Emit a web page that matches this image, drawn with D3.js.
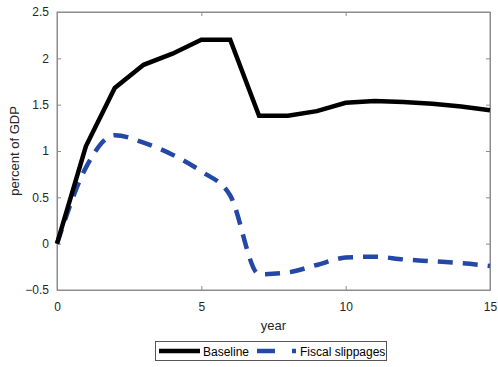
<!DOCTYPE html>
<html>
<head>
<meta charset="utf-8">
<script src="https://cdn.jsdelivr.net/npm/d3@7"></script>
<style>
  html, body { margin: 0; padding: 0; background: #fff; }
  svg { display: block; font-family: "Liberation Sans", Arial, Helvetica, sans-serif; }
</style>
</head>
<body>
<svg id="chart" width="498" height="367"></svg>
<script>
// Years on the horizontal axis
const years = [0, 1, 2, 3, 4, 5, 6, 7, 8, 9, 10, 11, 12, 13, 14, 15];
// Debt path, percent of GDP
const baseline = [0, 1.05, 1.68, 1.93, 2.05, 2.20, 2.20, 1.38, 1.38, 1.43, 1.52, 1.54, 1.53, 1.51, 1.48, 1.44];
const fiscalSlippages = [0, 0.82, 1.17, 1.09, 0.96, 0.78, 0.52, -0.33, -0.31, -0.23, -0.15, -0.14, -0.17, -0.19, -0.21, -0.24];
const xTicks = [0, 5, 10, 15];
const yTicks = [-0.5, 0, 0.5, 1, 1.5, 2, 2.5];
const seriesNames = ["Baseline", "Fiscal slippages"];

const svg = d3.select("#chart");
const m = { left: 57, right: 490, top: 12, bottom: 290 };

const x = d3.scaleLinear().domain([0, 15]).range([m.left, m.right]);
const y = d3.scaleLinear().domain([-0.5, 2.5]).range([m.bottom, m.top]);

const axisColor = "#8c8c8c";
const textColor = "#262626";

// Plot box
svg.append("rect")
  .attr("x", m.left).attr("y", m.top)
  .attr("width", m.right - m.left).attr("height", m.bottom - m.top)
  .attr("fill", "#fff").attr("stroke", axisColor).attr("stroke-width", 1);

// Axes with inward ticks
const tickFmt = d3.format("");
const gx = svg.append("g").attr("transform", `translate(0,${m.bottom})`)
  .call(d3.axisBottom(x).tickValues(xTicks).tickSizeInner(-4).tickSizeOuter(0).tickPadding(12).tickFormat(tickFmt));
const gxTop = svg.append("g").attr("transform", `translate(0,${m.top})`)
  .call(d3.axisTop(x).tickValues(xTicks).tickSizeInner(-4).tickSizeOuter(0).tickFormat(""));
const gy = svg.append("g").attr("transform", `translate(${m.left},0)`)
  .call(d3.axisLeft(y).tickValues(yTicks).tickSizeInner(-4).tickSizeOuter(0).tickPadding(8).tickFormat(tickFmt));
const gyR = svg.append("g").attr("transform", `translate(${m.right},0)`)
  .call(d3.axisRight(y).tickValues(yTicks).tickSizeInner(-4).tickSizeOuter(0).tickFormat(""));

[gx, gxTop, gy, gyR].forEach(g => {
  g.select(".domain").attr("stroke", axisColor);
  g.selectAll(".tick line").attr("stroke", axisColor);
  g.selectAll(".tick text").attr("fill", textColor).attr("font-size", 12)
    .attr("font-family", "'Liberation Sans', Arial, sans-serif");
});

// Axis titles
svg.append("text")
  .attr("x", (m.left + m.right) / 2).attr("y", 330)
  .attr("text-anchor", "middle").attr("font-size", 13).attr("fill", textColor)
  .text("year");
svg.append("text")
  .attr("transform", `translate(19,${(m.top + m.bottom) / 2}) rotate(-90)`)
  .attr("text-anchor", "middle").attr("font-size", 13).attr("fill", textColor)
  .text("percent of GDP");

const blue = "#2348a6";

// Series lines
const lineLinear = d3.line().x((d, i) => x(years[i])).y(d => y(d));
const lineSmooth = d3.line().x((d, i) => x(years[i])).y(d => y(d)).curve(d3.curveMonotoneX);

svg.append("path")
  .datum(fiscalSlippages)
  .attr("d", lineSmooth)
  .attr("fill", "none").attr("stroke", blue).attr("stroke-width", 4.5)
  .attr("stroke-dasharray", "15,10");

svg.append("path")
  .datum(baseline)
  .attr("d", lineLinear)
  .attr("fill", "none").attr("stroke", "#000").attr("stroke-width", 4.5)
  .attr("stroke-linejoin", "miter");

// Legend
const lg = svg.append("g");
lg.append("rect")
  .attr("x", 155.5).attr("y", 341.5).attr("width", 231).attr("height", 19)
  .attr("fill", "#fff").attr("stroke", "#555").attr("stroke-width", 1);
lg.append("line")
  .attr("x1", 159).attr("x2", 200).attr("y1", 351).attr("y2", 351)
  .attr("stroke", "#000").attr("stroke-width", 4.5);
lg.append("text")
  .attr("x", 203).attr("y", 355.5).attr("font-size", 12).attr("fill", "#000")
  .text(seriesNames[0]);
lg.append("line")
  .attr("x1", 257).attr("x2", 297).attr("y1", 351).attr("y2", 351)
  .attr("stroke", blue).attr("stroke-width", 4.5)
  .attr("stroke-dasharray", "18,17,4,10");
lg.append("text")
  .attr("x", 300).attr("y", 355.5).attr("font-size", 12).attr("fill", "#000")
  .text(seriesNames[1]);
</script>
</body>
</html>
